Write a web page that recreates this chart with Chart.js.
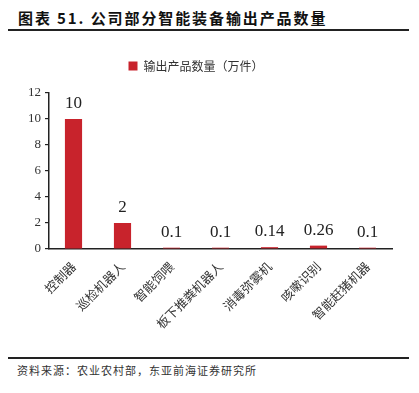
<!DOCTYPE html>
<html>
<head>
<meta charset="utf-8">
<script src="https://cdn.jsdelivr.net/npm/chart.js@4/dist/chart.umd.min.js"></script>
<style>
  body { margin: 0; background: #fff; }
  #wrap { position: relative; width: 419px; height: 393px; overflow: hidden; }
  #title { position: absolute; left: 18px; top: 7px; font: bold 15px "Noto Sans CJK SC", sans-serif; color: #111; letter-spacing: 1.9px; }
  .rule { position: absolute; left: 8px; width: 401px; height: 2px; background: #222; }
  #source { position: absolute; left: 17px; top: 362px; font: 11px "Noto Sans CJK SC", sans-serif; color: #333; letter-spacing: 1px; }
  #box { position: absolute; left: 0; top: 40px; width: 419px; height: 310px; }
</style>
</head>
<body>
<div id="wrap">
  <div id="title">图表 51. 公司部分智能装备输出产品数量</div>
  <div class="rule" style="top:29px"></div>
  <div id="box"><canvas id="c" width="419" height="310"></canvas></div>
  <div class="rule" style="top:357px"></div>
  <div id="source">资料来源：农业农村部，东亚前海证券研究所</div>
</div>
<script>
const categories = ['控制器', '巡检机器人', '智能饲喂', '板下推粪机器人', '消毒弥雾机', '咳嗽识别', '智能赶猪机器'];
const outputQty = [10, 2, 0.1, 0.1, 0.14, 0.26, 0.1];
const valueLabels = ['10', '2', '0.1', '0.1', '0.14', '0.26', '0.1'];
const yTicks = [0, 2, 4, 6, 8, 10, 12];

// 柱顶数值标签
const barLabels = {
  id: 'barLabels',
  afterInit(chart) {
    // 图例下方留出更多空白
    const fit = chart.legend.fit;
    chart.legend.fit = function () {
      fit.call(this);
      this.height += 11;
    };
  },
  afterDatasetsDraw(chart) {
    const ctx = chart.ctx;
    const meta = chart.getDatasetMeta(0);
    ctx.save();
    ctx.font = '17px "Liberation Serif", serif';
    ctx.fillStyle = '#222';
    ctx.textAlign = 'center';
    ctx.textBaseline = 'alphabetic';
    meta.data.forEach((bar, i) => {
      ctx.fillText(valueLabels[i], bar.x, bar.y - 11);
    });
    ctx.restore();
  }
};

new Chart(document.getElementById('c'), {
  type: 'bar',
  data: {
    labels: categories,
    datasets: [{
      label: '输出产品数量（万件）',
      data: outputQty,
      backgroundColor: '#C8232C',
      barPercentage: 0.35,
      categoryPercentage: 1.0
    }]
  },
  options: {
    responsive: false,
    animation: false,
    layout: { padding: { left: 0, right: 27, top: 10, bottom: 0 } },
    plugins: {
      tooltip: { enabled: false },
      legend: {
        display: true,
        position: 'top',
        labels: {
          boxWidth: 9,
          boxHeight: 9,
          padding: 10,
          color: '#333',
          font: { family: '"Noto Sans CJK SC", sans-serif', size: 12 }
        }
      }
    },
    scales: {
      x: {
        grid: { display: false },
        border: { display: true, color: '#222', width: 1.5 },
        ticks: {
          minRotation: 45,
          maxRotation: 45,
          color: '#333',
          padding: 2,
          font: { family: '"Noto Sans CJK SC", sans-serif', size: 12.5 }
        },
        afterFit: (s) => { s.height = 101; }
      },
      y: {
        min: 0,
        max: 12,
        afterBuildTicks: (s) => { s.ticks = yTicks.map(v => ({ value: v })); },
        grid: { display: true, drawOnChartArea: false, drawTicks: true, tickLength: 4, color: '#222', lineWidth: 1.2 },
        border: { display: true, color: '#222', width: 1.5 },
        ticks: {
          color: '#333',
          padding: 4,
          font: { family: '"Liberation Serif", serif', size: 13 }
        },
        afterFit: (s) => { s.width = 49; }
      }
    }
  },
  plugins: [barLabels]
});
</script>
</body>
</html>
